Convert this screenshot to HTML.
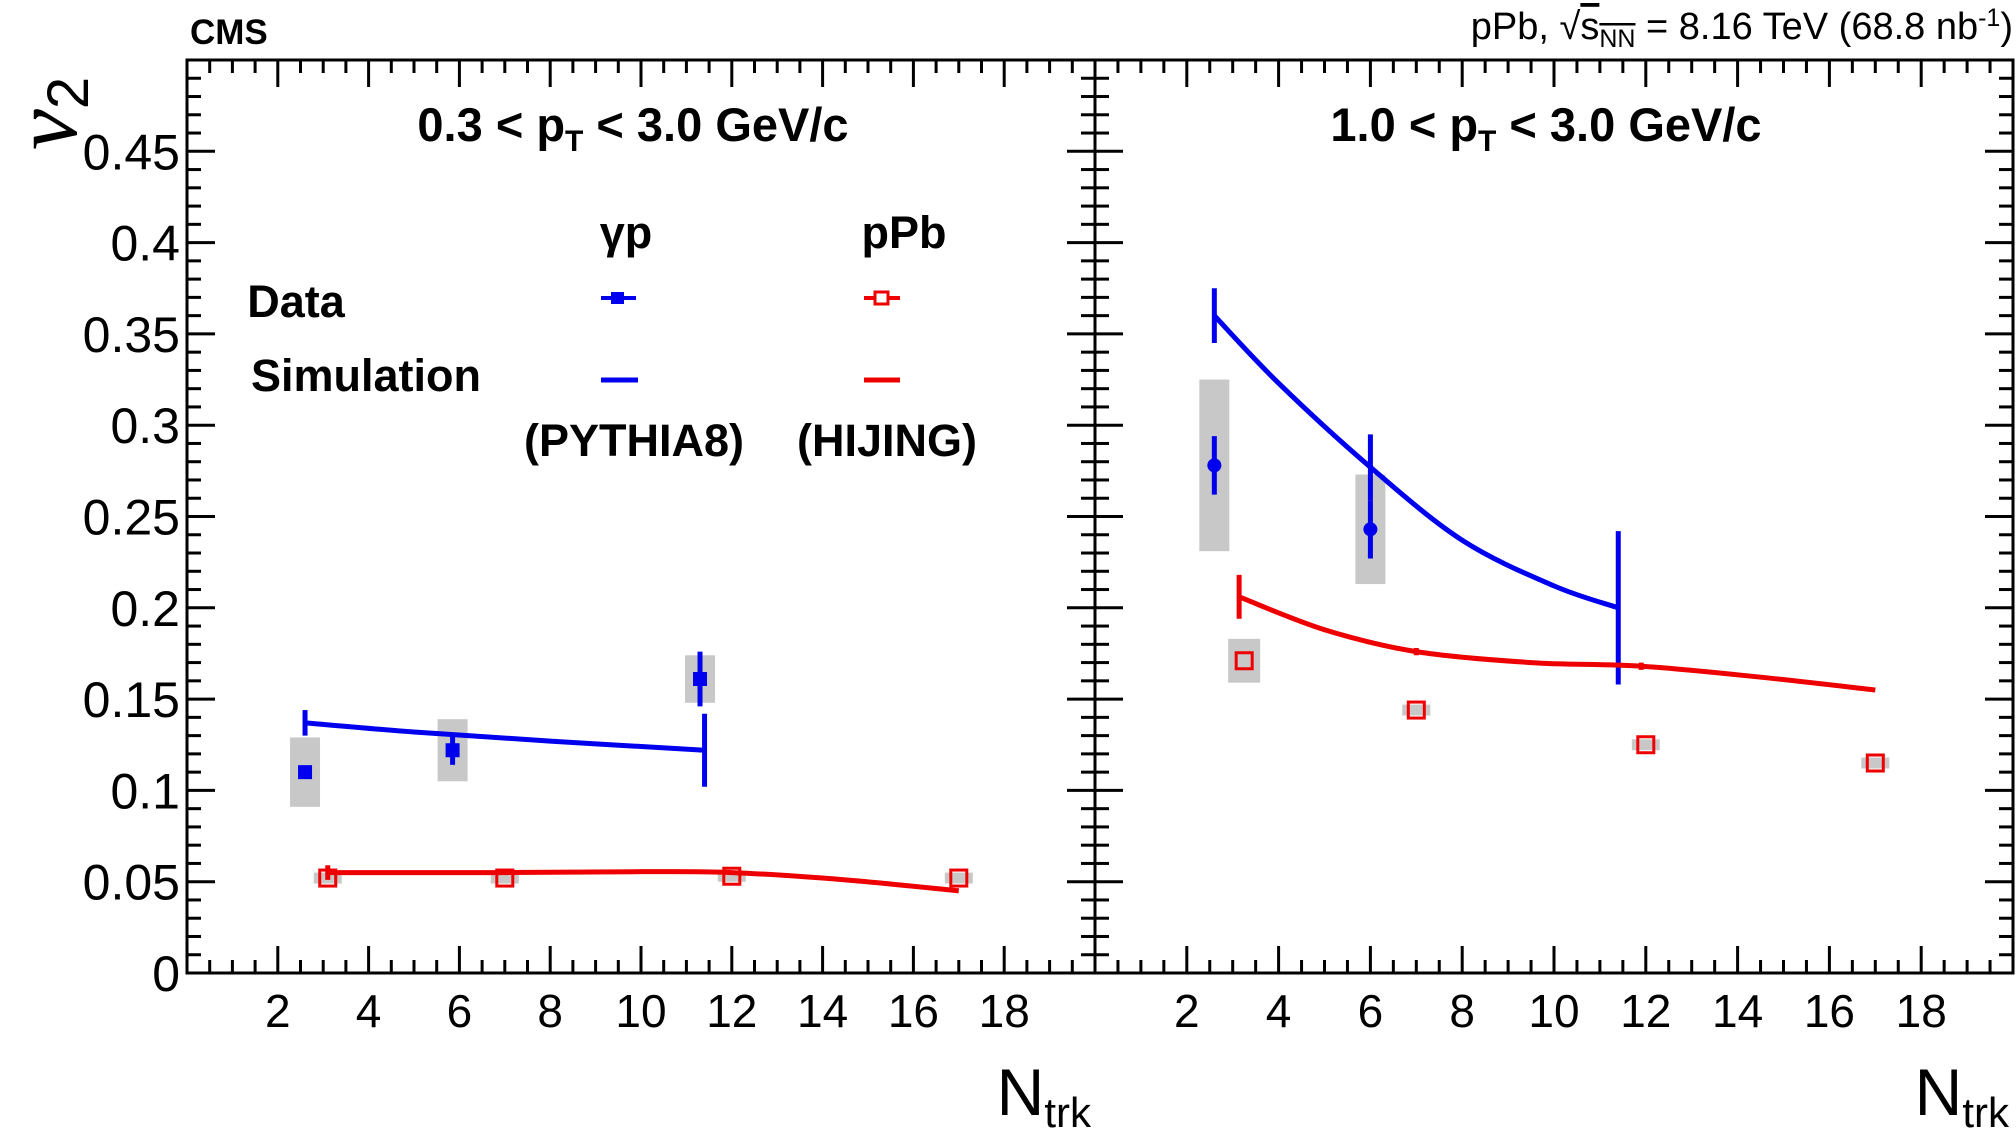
<!DOCTYPE html>
<html><head><meta charset="utf-8"><style>
body{margin:0;background:#fff}
svg{display:block;font-family:"Liberation Sans",sans-serif}
</style></head><body>
<svg id="c" width="2016" height="1131" viewBox="0 0 2016 1131">
<text x="190" y="44" font-size="35" font-weight="bold">CMS</text>
<text x="2013" y="39" font-size="38" text-anchor="end">pPb, √<tspan text-decoration="overline">s<tspan font-size="25" dy="8">NN</tspan></tspan><tspan dy="-8"> = 8.16 TeV (68.8 nb</tspan><tspan font-size="25" dy="-13">-1</tspan><tspan dy="13">)</tspan></text>
<text transform="translate(76,150) rotate(-90)" font-size="92" font-family="Liberation Serif,serif" font-style="italic">ν<tspan font-size="58" font-style="normal" font-family="Liberation Sans,sans-serif" dy="12">2</tspan></text>
<g id="g"></g>
<g font-weight="bold" font-size="45">
<text x="626" y="248" text-anchor="middle">γp</text>
<text x="904" y="248" text-anchor="middle">pPb</text>
<text x="296" y="317" text-anchor="middle">Data</text>
<text x="366" y="391" text-anchor="middle">Simulation</text>
<text x="634" y="456" text-anchor="middle">(PYTHIA8)</text>
<text x="887" y="456" text-anchor="middle">(HIJING)</text>
<line x1="601" y1="298" x2="636" y2="298" stroke="#0000ee" stroke-width="4"/>
<rect x="611" y="292" width="13" height="12" fill="#0000ee"/>
<line x1="864" y1="298" x2="900" y2="298" stroke="#ee0000" stroke-width="4"/>
<rect x="875" y="292" width="13" height="12" fill="#fff" stroke="#ee0000" stroke-width="3"/>
<line x1="601" y1="380" x2="638" y2="380" stroke="#0000ee" stroke-width="5"/>
<line x1="864" y1="380" x2="900" y2="380" stroke="#ee0000" stroke-width="5"/>
</g>
</svg>
<script>
// Left panel (0.3<pT<3.0)
const L_gp_x=[2.6,5.85,11.3];
const L_gp_y=[0.110,0.122,0.161];
const L_gp_stat=[0.003,0.008,0.015];
const L_gp_sys=[0.019,0.017,0.013];
const L_pp_x=[3.1,7,12,17];
const L_pp_y=[0.052,0.052,0.053,0.052];
const L_pp_sys=[0.003,0.003,0.003,0.003];
const L_py_x=[2.6,5,8,11.4];
const L_py_y=[0.137,0.132,0.127,0.122];
const L_py_err=[0.007,0,0,0.02];
const L_hj_x=[3.1,7,10,12,14.5,17];
const L_hj_y=[0.055,0.055,0.0555,0.055,0.051,0.045];
const L_hj_err=[0.004,0,0,0,0,0];
// Right panel (1.0<pT<3.0)
const R_gp_x=[2.6,6.0];
const R_gp_y=[0.278,0.243];
const R_gp_stat=[0.016,0.016];
const R_gp_sys=[0.047,0.030];
const R_pp_x=[3.25,7,12,17];
const R_pp_y=[0.171,0.144,0.125,0.115];
const R_pp_sys=[0.012,0.003,0.003,0.003];
const R_py_x=[2.6,4.0,6,8,10,11.4];
const R_py_y=[0.360,0.323,0.277,0.237,0.212,0.200];
const R_py_err=[0.015,0,0.018,0,0,0.042];
const R_hj_x=[3.14,5,7,9.5,11.9,14.5,17];
const R_hj_y=[0.206,0.188,0.176,0.170,0.168,0.162,0.155];
const R_hj_err=[0.012,0,0.002,0,0.001,0,0];
const xTicks=[2,4,6,8,10,12,14,16,18];
const yTicks=[0,0.05,0.1,0.15,0.2,0.25,0.3,0.35,0.4,0.45];

const NS='http://www.w3.org/2000/svg';
const G=document.getElementById('g');
const top_=60,bot=973,yMax=0.5;
function Y(v){return bot-(v/yMax)*(bot-top_);}
function mk(tag,at,par){const e=document.createElementNS(NS,tag);for(const k in at)e.setAttribute(k,at[k]);(par||G).appendChild(e);return e;}
function curve(X,xs,ys){let p=xs.map((x,i)=>[X(x),Y(ys[i])]);let d='M'+p[0][0]+','+p[0][1];
 for(let i=0;i<p.length-1;i++){const p0=p[Math.max(0,i-1)],p1=p[i],p2=p[i+1],p3=p[Math.min(p.length-1,i+2)];
 d+=' C'+(p1[0]+(p2[0]-p0[0])/6)+','+(p1[1]+(p2[1]-p0[1])/6)+' '+(p2[0]-(p3[0]-p1[0])/6)+','+(p2[1]-(p3[1]-p1[1])/6)+' '+p2[0]+','+p2[1];}return d;}

function panel(id,x0,x1,title,D,showY){
 const X=v=>x0+v/20*(x1-x0);
 const g=mk('g',{});
 
 
 for(let i=0;i<=50;i++){const v=i*0.01,y=Y(v),maj=i%5==0,l=maj?28:14;
  mk('line',{x1:x0,y1:y,x2:x0+l,y2:y,stroke:'#000','stroke-width':3},g);
  mk('line',{x1:x1,y1:y,x2:x1-l,y2:y,stroke:'#000','stroke-width':3},g);}
 for(let i=0;i<=40;i++){const v=i*0.5,x=X(v),maj=(i%4==0),l=maj?27:13;
  mk('line',{x1:x,y1:bot,x2:x,y2:bot-l,stroke:'#000','stroke-width':3},g);
  mk('line',{x1:x,y1:top_,x2:x,y2:top_+l,stroke:'#000','stroke-width':3},g);}
 mk('rect',{x:x0,y:top_,width:x1-x0,height:bot-top_,fill:'none',stroke:'#000','stroke-width':3},g);
 xTicks.forEach(v=>{const t=mk('text',{x:X(v),y:1027,'font-size':46,'text-anchor':'middle'},g);t.textContent=v;
  
  });
 if(showY)yTicks.forEach(v=>{const t=mk('text',{x:180,y:Y(v)+18,'font-size':50,'text-anchor':'end'},g);t.textContent=v;
  
  });
 const nt=mk('text',{x:x1-4,y:1115,'font-size':66,'text-anchor':'end'},g);
 nt.innerHTML='N<tspan font-size="42" dy="12">trk</tspan>';
 
 
 const tt=mk('text',{x:(x0+x1)/2-8,y:141,'font-size':47,'font-weight':'bold','text-anchor':'middle'},g);
 tt.innerHTML=title;
 
 
 D.gx.forEach((x,i)=>{const r=mk('rect',{x:X(x)-15,y:Y(D.gy[i]+D.gsys[i]),width:30,height:Y(D.gy[i]-D.gsys[i])-Y(D.gy[i]+D.gsys[i]),fill:'#c8c8c8'},g);
  
  });
 D.px.forEach((x,i)=>{const w=D.psys[i]>0.005?32:28;const h=Math.max(8,Y(D.py[i]-D.psys[i])-Y(D.py[i]+D.psys[i]));
  const r=mk('rect',{x:X(x)-w/2,y:Y(D.py[i])-h/2,width:w,height:h,fill:'#c8c8c8'},g);
  
  });
 [[D.sx,D.sy,D.se,'#0000ee','pythia8-curve'],[D.hx,D.hy,D.he,'#ee0000','hijing-curve']].forEach(([xs,ys,es,c,n])=>{
  const p=mk('path',{d:curve(X,xs,ys),fill:'none',stroke:c,'stroke-width':5},g);
  
  
  xs.forEach((x,i)=>{if(es[i]>0){const e=mk('line',{x1:X(x),x2:X(x),y1:Y(ys[i]-Math.max(es[i],0.002)),y2:Y(ys[i]+Math.max(es[i],0.002)),stroke:c,'stroke-width':5},g);
   
   }});});
 D.gx.forEach((x,i)=>{const e=mk('line',{x1:X(x),x2:X(x),y1:Y(D.gy[i]-D.gstat[i]),y2:Y(D.gy[i]+D.gstat[i]),stroke:'#0000ee','stroke-width':5},g);
  
  
  const m=D.round?mk('circle',{cx:X(x),cy:Y(D.gy[i]),r:7,fill:'#0000ee'},g):mk('rect',{x:X(x)-7,y:Y(D.gy[i])-7,width:14,height:14,fill:'#0000ee'},g);
  
  });
 D.px.forEach((x,i)=>{const m=mk('rect',{x:X(x)-8,y:Y(D.py[i])-8,width:16,height:16,fill:'none',stroke:'#ee0000','stroke-width':3},g);
  
  });
}
panel('left-panel',187,1095,'0.3 &lt; p<tspan font-size="30" dy="10">T</tspan><tspan dy="-10"> &lt; 3.0 GeV/c</tspan>',
 {gx:L_gp_x,gy:L_gp_y,gstat:L_gp_stat,gsys:L_gp_sys,px:L_pp_x,py:L_pp_y,psys:L_pp_sys,sx:L_py_x,sy:L_py_y,se:L_py_err,hx:L_hj_x,hy:L_hj_y,he:L_hj_err,round:false},true);
panel('right-panel',1095,2013,'1.0 &lt; p<tspan font-size="30" dy="10">T</tspan><tspan dy="-10"> &lt; 3.0 GeV/c</tspan>',
 {gx:R_gp_x,gy:R_gp_y,gstat:R_gp_stat,gsys:R_gp_sys,px:R_pp_x,py:R_pp_y,psys:R_pp_sys,sx:R_py_x,sy:R_py_y,se:R_py_err,hx:R_hj_x,hy:R_hj_y,he:R_hj_err,round:true},false);
</script>
</body></html>
